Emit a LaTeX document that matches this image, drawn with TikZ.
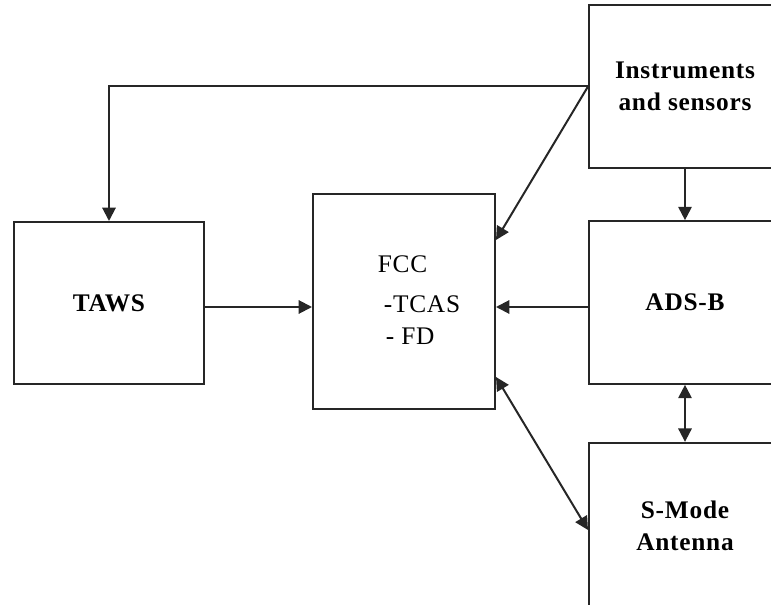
\documentclass[tikz,border=0pt]{standalone}
\usepackage{fontspec}
\setmainfont{Liberation Serif}[LetterSpace=3]
\usepackage{tikz}
\usetikzlibrary{arrows.meta, positioning, calc}
\tikzset{
  blockbox/.style={
    draw=black!85, line width=1.5pt, fill=white,
    align=center, inner sep=0pt,
    font=\fontsize{19}{24}\selectfont\bfseries
  },
  blocktext/.style={align=left, inner sep=0pt, font=\fontsize{19}{24}\selectfont},
  flowarrow/.style={-{Triangle[length=10pt, width=10pt]}, line width=1.5pt, black!85},
  bothway/.style={{Triangle[length=10pt, width=10pt]}-{Triangle[length=10pt, width=10pt]}, line width=1.5pt, black!85},
}
\begin{document}
\begin{tikzpicture}[x=0.75pt, y=-0.75pt]
  \useasboundingbox (0,0) rectangle (771,605);
  \clip (0,0) rectangle (771,605);

  % Blocks
  \node[blockbox, minimum width=144pt, minimum height=122pt] (inst) at (685,86.5) {Instruments\\and sensors};
  \node[blockbox, minimum width=142.5pt, minimum height=121.5pt] (taws) at (109,303) {TAWS};
  \node[blockbox, minimum width=136.5pt, minimum height=161pt] (fcc) at (404,301.5) {};
  \node[blocktext] (fcclbl) at (419,300) {FCC\\[6pt]\hspace*{4.5pt}-TCAS\\\hspace*{6pt}- FD};
  \node[blockbox, minimum width=144pt, minimum height=122pt] (adsb) at (685,302.5) {ADS-B};
  \node[blockbox, minimum width=144pt, minimum height=124pt] (smode) at (685,525.5) {S-Mode\\Antenna};

  % Arrows
  \draw[flowarrow] (inst.west) -| (taws.north);
  \draw[flowarrow] (inst.west) -- (fcc.east |- 0,240);
  \draw[flowarrow] (taws.east |- 0,307) -- (fcc.west |- 0,307);
  \draw[flowarrow] (adsb.west |- 0,307) -- (fcc.east |- 0,307);
  \draw[flowarrow] (inst.south) -- (adsb.north);
  \draw[bothway] (adsb.south) -- (smode.north);
  \draw[bothway] (fcc.east |- 0,377) -- (smode.west |- 0,530);
\end{tikzpicture}
\end{document}
